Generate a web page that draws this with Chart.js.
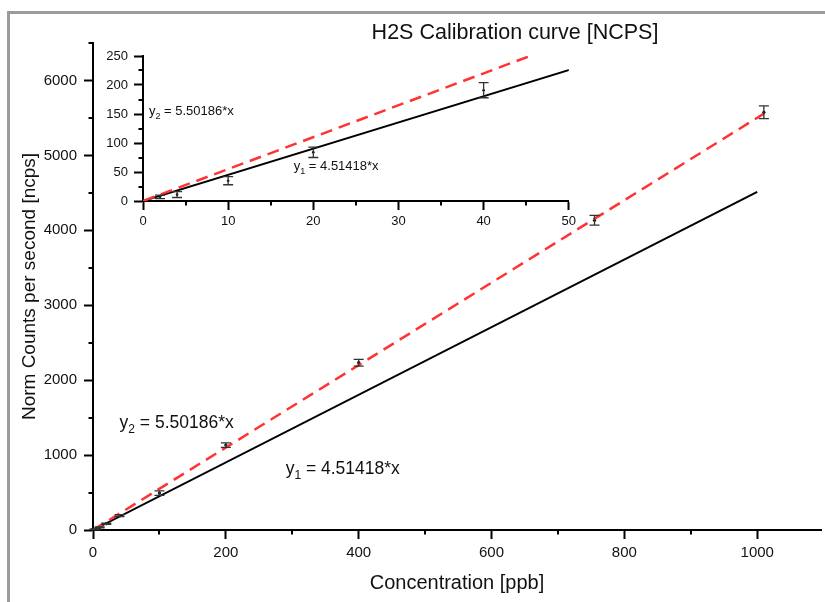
<!DOCTYPE html>
<html>
<head>
<meta charset="utf-8">
<script src="https://cdn.jsdelivr.net/npm/chart.js@4.4.0/dist/chart.umd.min.js"></script>
<style>
  body { margin: 0; background: #fff; }
  #wrap { position: relative; width: 825px; height: 602px; overflow: hidden; }
  #frame { position: absolute; left: 7px; top: 11px; right: -10px; bottom: -10px;
           border-left: 3px solid #9b9b9b; border-top: 3px solid #9b9b9b; }
  #main { position: absolute; left: 0; top: 0; }
  #inset { position: absolute; left: 100px; top: 42px; }
</style>
</head>
<body>
<div id="wrap">
  <div id="frame"></div>
  <canvas id="main" width="825" height="602"></canvas>
  <canvas id="inset" width="480" height="190"></canvas>
</div>
<script>
// measured points (ppb -> normalised counts per second) with error
const concPpb = [2, 4, 10, 20, 40, 100, 200, 400, 755, 1010];
const normCps = [7, 11, 35, 84, 191, 493, 1133, 2233, 4133, 5575];
const cpsErr  = [3, 5, 7, 9, 13, 30, 30, 45, 65, 85];

// fit lines, end points
const fit1X = [0, 1000];
const fit1Y = [0, 4514];
const fit2X = [0, 1010];
const fit2Y = [0, 5557];

// axis ticks
const xTicksMain = [0, 200, 400, 600, 800, 1000];
const yTicksMain = [0, 1000, 2000, 3000, 4000, 5000, 6000];
const xMinorMain = [100, 300, 500, 700, 900];
const yMinorMain = [500, 1500, 2500, 3500, 4500, 5500, 6500];
const xTicksInset = [0, 10, 20, 30, 40, 50];
const yTicksInset = [0, 50, 100, 150, 200, 250];
const xMinorInset = [5, 15, 25, 35, 45];
const yMinorInset = [25, 75, 125, 175, 225];

const FONT = "'Liberation Sans', Arial, sans-serif";

const toPts = (xs, ys) => xs.map((v, i) => ({ x: v, y: ys[i] }));

// error bars for the measured points
const errorBars = {
  id: 'errorBars',
  afterDatasetsDraw(chart, args, opts) {
    const { ctx, chartArea, scales } = chart;
    ctx.save();
    ctx.beginPath();
    ctx.rect(chartArea.left - 8, chartArea.top - 2, chartArea.right - chartArea.left + 16, chartArea.bottom - chartArea.top + 4);
    ctx.clip();
    ctx.strokeStyle = '#333';
    ctx.lineWidth = 1.3;
    concPpb.forEach((c, i) => {
      const px = scales.x.getPixelForValue(c);
      const top = scales.y.getPixelForValue(normCps[i] + cpsErr[i]);
      const bot = scales.y.getPixelForValue(normCps[i] - cpsErr[i]);
      const w = opts.cap || 5;
      ctx.beginPath();
      ctx.moveTo(px, top); ctx.lineTo(px, bot);
      ctx.moveTo(px - w, top); ctx.lineTo(px + w, top);
      ctx.moveTo(px - w, bot); ctx.lineTo(px + w, bot);
      ctx.stroke();
    });
    ctx.restore();
  }
};

// short minor ticks
const minorTicks = {
  id: 'minorTicks',
  afterDraw(chart, args, opts) {
    const { ctx, chartArea, scales } = chart;
    ctx.save();
    ctx.strokeStyle = '#000';
    ctx.lineWidth = 2;
    ctx.beginPath();
    (opts.x || []).forEach(v => {
      const px = Math.round(scales.x.getPixelForValue(v));
      ctx.moveTo(px, chartArea.bottom); ctx.lineTo(px, chartArea.bottom + 4.5);
    });
    (opts.y || []).forEach(v => {
      const py = Math.round(scales.y.getPixelForValue(v));
      ctx.moveTo(chartArea.left, py); ctx.lineTo(chartArea.left - 4.5, py);
    });
    ctx.stroke();
    ctx.restore();
  }
};

// equation labels with subscripts, and the title
const eqLabels = {
  id: 'eqLabels',
  afterDraw(chart, args, opts) {
    const { ctx, scales } = chart;
    ctx.save();
    ctx.fillStyle = '#111';
    ctx.textBaseline = 'alphabetic';
    ctx.textAlign = 'left';
    (opts.items || []).forEach(it => {
      const size = opts.size;
      let px = scales.x.getPixelForValue(it.x);
      const py = scales.y.getPixelForValue(it.y);
      ctx.font = size + 'px ' + FONT;
      ctx.fillText('y', px, py);
      px += ctx.measureText('y').width;
      ctx.font = Math.round(size * 0.7) + 'px ' + FONT;
      ctx.fillText(it.sub, px, py + size * 0.28);
      px += ctx.measureText(it.sub).width;
      ctx.font = size + 'px ' + FONT;
      ctx.fillText(' = ' + it.text, px, py);
    });
    if (opts.title) {
      ctx.font = '21.5px ' + FONT;
      ctx.textAlign = 'center';
      ctx.textBaseline = 'middle';
      ctx.fillText(opts.title, 515, 33);
    }
    ctx.restore();
  }
};

function axis(min, max, ticks, size, tickLen, pad, fit, title) {
  return {
    type: 'linear',
    min: min,
    max: max,
    afterBuildTicks: s => { s.ticks = ticks.map(v => ({ value: v })); },
    afterFit: fit,
    grid: { display: true, drawOnChartArea: false, drawTicks: true, tickLength: tickLen,
            tickWidth: 2, tickColor: '#000', color: '#000' },
    border: { display: true, color: '#000', width: 2 },
    ticks: { color: '#111', padding: pad, font: { family: FONT, size: size },
             callback: v => String(v) },
    title: title || { display: false }
  };
}

function datasets(dotR) {
  return [
    { data: toPts(fit2X, fit2Y), showLine: true, borderColor: '#ff3333', borderWidth: 2.5,
      borderDash: [12, 7], pointRadius: 0 },
    { data: toPts(fit1X, fit1Y), showLine: true, borderColor: '#000', borderWidth: 2,
      pointRadius: 0 },
    { data: toPts(concPpb, normCps), showLine: false, pointRadius: dotR,
      pointBackgroundColor: '#000', pointBorderWidth: 0 }
  ];
}

new Chart(document.getElementById('main'), {
  type: 'scatter',
  data: { datasets: datasets(1.6) },
  options: {
    responsive: false,
    animation: false,
    layout: { padding: { top: 43, right: 0, left: 0, bottom: 0 } },
    plugins: {
      legend: { display: false },
      tooltip: { enabled: false },
      errorBars: { cap: 5 },
      minorTicks: { x: xMinorMain, y: yMinorMain },
      eqLabels: {
        size: 17.5,
        title: 'H2S Calibration curve [NCPS]',
        items: [
          { x: 40, y: 1360, sub: '2', text: '5.50186*x' },
          { x: 290, y: 747, sub: '1', text: '4.51418*x' }
        ]
      }
    },
    scales: {
      x: axis(0, 1096, xTicksMain, 15, 9, 5, s => { s.height = 72; },
        { display: true, text: 'Concentration [ppb]', color: '#111',
          font: { family: FONT, size: 20 }, padding: { top: 4, bottom: 6.5 } }),
      y: axis(0, 6500, yTicksMain, 15, 9, 7, s => { s.width = 93; },
        { display: true, text: 'Norm Counts per second [ncps]', color: '#111',
          font: { family: FONT, size: 19 }, padding: { top: 18.5, bottom: 4 } })
    }
  },
  plugins: [errorBars, minorTicks, eqLabels]
});

new Chart(document.getElementById('inset'), {
  type: 'scatter',
  data: { datasets: datasets(1.3) },
  options: {
    responsive: false,
    animation: false,
    layout: { padding: { top: 14, right: 10, left: 0, bottom: 0 } },
    plugins: {
      legend: { display: false },
      tooltip: { enabled: false },
      errorBars: { cap: 5 },
      minorTicks: { x: xMinorInset, y: yMinorInset },
      eqLabels: {
        size: 13,
        items: [
          { x: 0.7, y: 148, sub: '2', text: '5.50186*x' },
          { x: 17.7, y: 53, sub: '1', text: '4.51418*x' }
        ]
      }
    },
    scales: {
      x: axis(0, 50, xTicksInset, 13, 9, 4, s => { s.height = 31; }),
      y: axis(0, 250, yTicksInset, 13, 9, 6, s => { s.width = 43; })
    }
  },
  plugins: [errorBars, minorTicks, eqLabels]
});
</script>
</body>
</html>
